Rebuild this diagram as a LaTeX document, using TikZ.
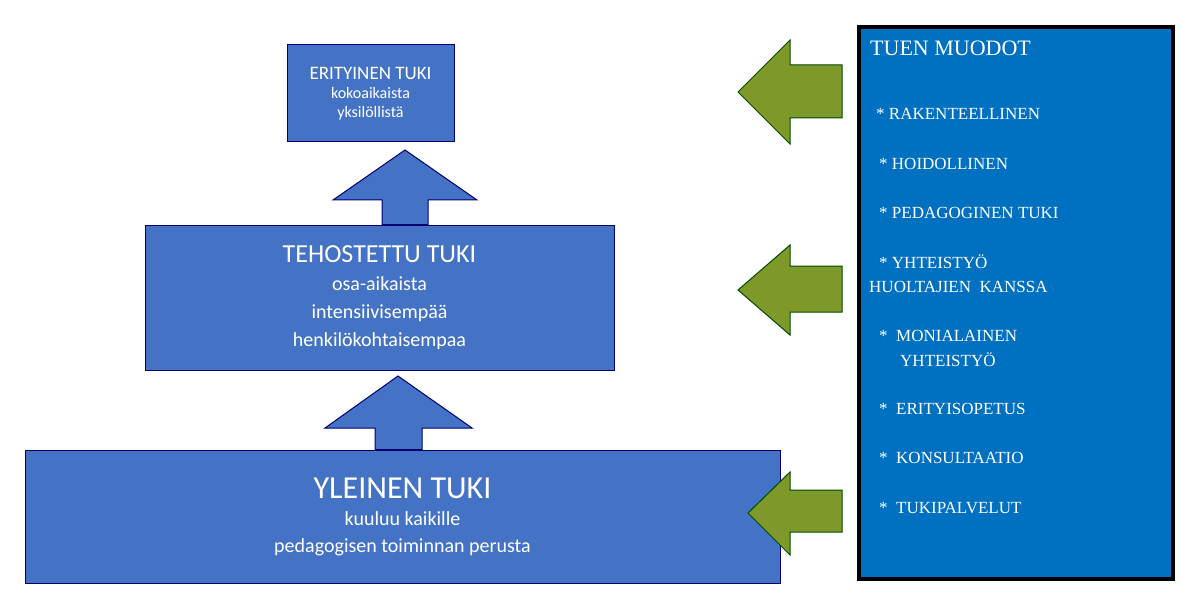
\documentclass[tikz,border=0pt]{standalone}
\usepackage{fontspec}
\setmainfont{Liberation Serif}
\newfontfamily\boxfont{Carlito}
\tikzset{
  level/.style={draw=blue!45!black, line width=1pt, fill=levelblue, text=white, align=center, font=\boxfont},
  uparrow/.style={draw=blue!45!black, line width=1pt, fill=levelblue},
  formarrow/.style={draw=green!30!black, line width=1pt, fill=formgreen},
  item/.style={anchor=west, text=white, font=\fontsize{17}{17}\selectfont, inner sep=0pt}
}
\definecolor{levelblue}{HTML}{4472C4}
\definecolor{formgreen}{HTML}{7E982A}
\definecolor{panelblue}{HTML}{0070C0}
\begin{document}
\begin{tikzpicture}[x=1pt, y=-1pt]
	\useasboundingbox (0,0) rectangle (1188,604);

	% levels
	\node[level, minimum width=167pt, minimum height=97pt, font=\boxfont\fontsize{16}{19}\selectfont] (erit) at (370.5,93.5)
		{{\fontsize{19}{22}\selectfont ERITYINEN TUKI}\\kokoaikaista\\yksilöllistä};
	\node[level, minimum width=469pt, minimum height=145pt, font=\boxfont\fontsize{20}{28}\selectfont] (teho) at (379.5,297.5)
		{{\fontsize{26}{32}\selectfont TEHOSTETTU TUKI}\\osa-aikaista\\intensiivisempää\\henkilökohtaisempaa};
	\node[level, minimum width=755pt, minimum height=133pt, font=\boxfont\fontsize{20}{27}\selectfont] (yle) at (402.5,516.5)
		{{\fontsize{32}{38}\selectfont YLEINEN TUKI}\\kuuluu kaikille\\pedagogisen toiminnan perusta};

	% arrows between levels
	\draw[uparrow] (teho.north -| 382,0) -- (382,200) -- (333,200) -- (405,150) -- (477,200) -- (428,200) -- (teho.north -| 428,0) -- cycle;
	\draw[uparrow] (yle.north -| 375,0) -- (375,428) -- (325,428) -- (398,376) -- (472,428) -- (422,428) -- (yle.north -| 422,0) -- cycle;

	% panel
	\node[draw=black, line width=4pt, fill=panelblue, minimum width=314pt, minimum height=552pt, inner sep=0pt] (forms) at (1016,303) {};
	\node[item, font=\fontsize{22}{22}\selectfont] (title) at (870,48) {TUEN MUODOT};
	\node[item] (i1) at (876,114) {* RAKENTEELLINEN};
	\node[item] (i2) at (879,164) {* HOIDOLLINEN};
	\node[item] (i3) at (879,213) {* PEDAGOGINEN TUKI};
	\node[item] (i4) at (879,262) {* YHTEISTYÖ};
	\node[item] (i4b) at (869,287) {HUOLTAJIEN\ \ KANSSA};
	\node[item] (i5) at (879,336) {*\ \ MONIALAINEN};
	\node[item] (i5b) at (900,360) {YHTEISTYÖ};
	\node[item] (i6) at (879,409) {*\ \ ERITYISOPETUS};
	\node[item] (i7) at (879,458) {*\ \ KONSULTAATIO};
	\node[item] (i8) at (879,508) {*\ \ TUKIPALVELUT};

	% arrows from the panel
	\draw[formarrow] (842,65) -- (790,65) -- (790,40) -- (738,92) -- (790,144) -- (790,118) -- (842,118) -- cycle;
	\draw[formarrow] (842,266) -- (790,266) -- (790,245) -- (738,290) -- (790,335) -- (790,312) -- (842,312) -- cycle;
	\draw[formarrow] (842,490) -- (790,490) -- (790,472) -- (748,513) -- (790,555) -- (790,532) -- (842,532) -- cycle;
\end{tikzpicture}
\end{document}
